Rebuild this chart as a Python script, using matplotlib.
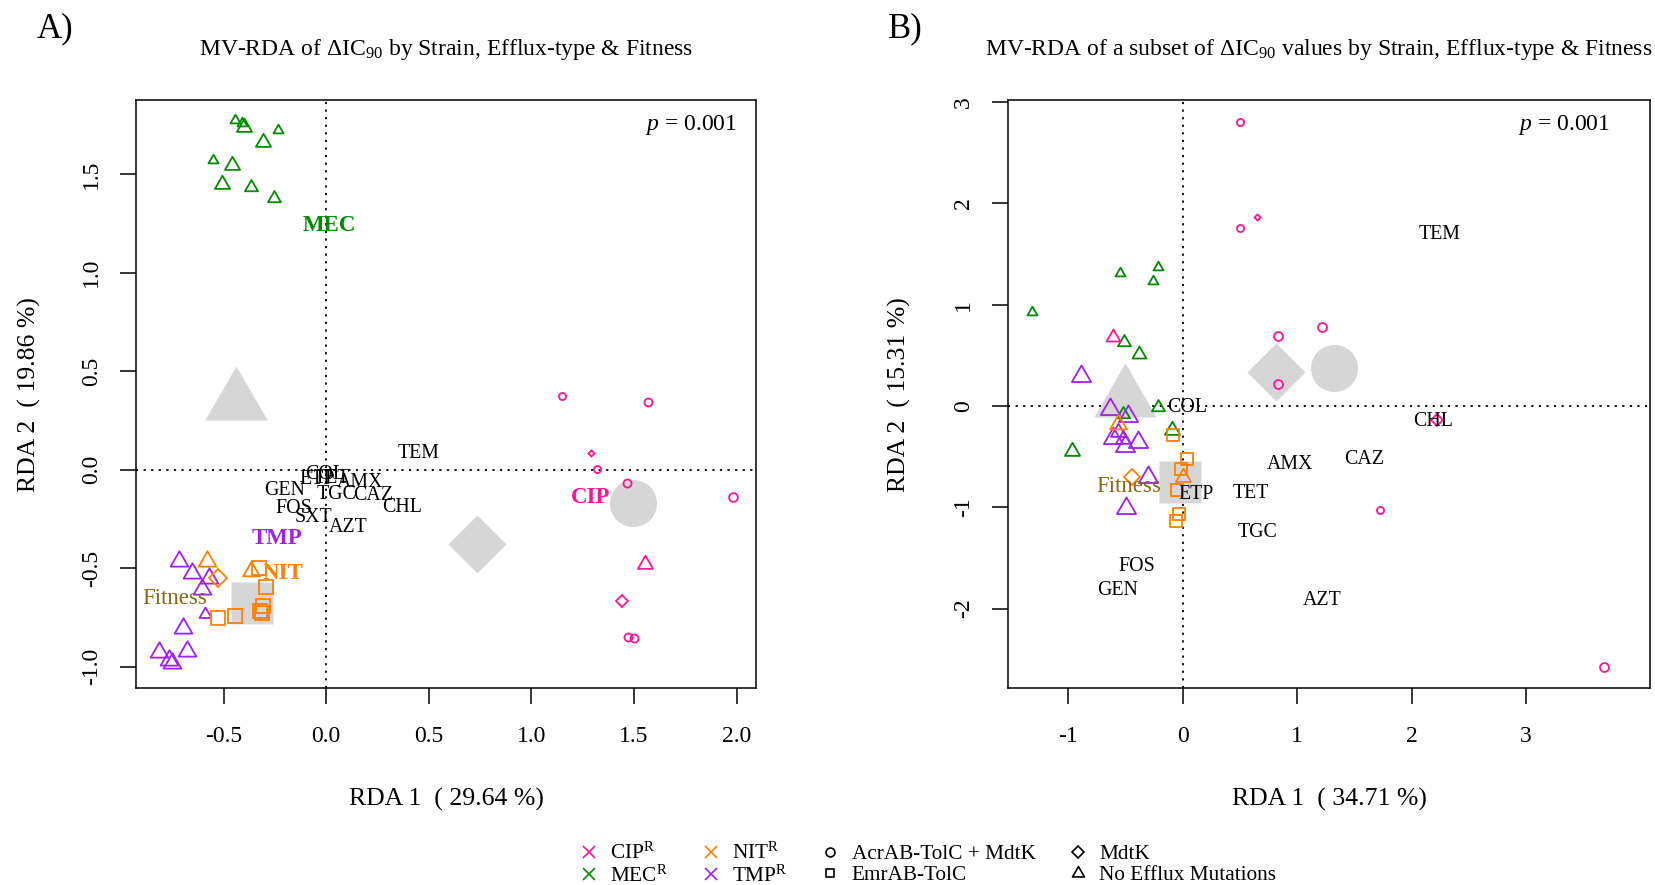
import matplotlib
matplotlib.use('Agg')
import matplotlib.pyplot as plt
from matplotlib.path import Path
from matplotlib.lines import Line2D

plt.rcParams['font.family'] = ['Liberation Serif', 'DejaVu Serif']
plt.rcParams['mathtext.fontset'] = 'custom'
plt.rcParams['mathtext.rm'] = 'Liberation Serif'
plt.rcParams['mathtext.it'] = 'Liberation Serif:italic'
plt.rcParams['mathtext.bf'] = 'Liberation Serif:bold'
plt.rcParams['axes.unicode_minus'] = False

# ---------------- data ----------------
STRAINS = ['CIP', 'MEC', 'NIT', 'TMP']
EFFLUX = ['acr', 'emr', 'mdt', 'none']
EFFLUX_LAB = ['AcrAB-TolC + MdtK', 'EmrAB-TolC', 'MdtK', 'No Efflux Mutations']

# panel A : full data set
A_STRAIN = ['MEC'] * 10 + ['TMP'] * 10 + ['NIT'] * 10 + ['CIP'] * 10
A_EFFLUX = (['none'] * 10 + ['none'] * 10 + ['none', 'none', 'mdt'] + ['emr'] * 7
            + ['acr'] * 7 + ['mdt', 'mdt', 'none'])
A_X = [-0.444, -0.412, -0.401, -0.236, -0.307, -0.553, -0.458, -0.508, -0.368, -0.253,
       -0.716, -0.655, -0.571, -0.607, -0.591, -0.699, -0.813, -0.765, -0.753, -0.680,
       -0.579, -0.368, -0.526, -0.327, -0.295, -0.529, -0.443, -0.307, -0.323, -0.315,
       1.148, 1.567, 1.321, 1.467, 1.981, 1.472, 1.500, 1.292, 1.443, 1.555]
A_Y = [1.774, 1.758, 1.740, 1.724, 1.661, 1.571, 1.546, 1.448, 1.436, 1.377,
       -0.463, -0.526, -0.551, -0.607, -0.732, -0.805, -0.923, -0.966, -0.982, -0.918,
       -0.462, -0.512, -0.551, -0.500, -0.597, -0.754, -0.741, -0.692, -0.717, -0.727,
       0.375, 0.343, 0.004, -0.066, -0.140, -0.847, -0.855, 0.086, -0.666, -0.480]
A_CEX = [0.42, 0.42, 0.63, 0.42, 0.63, 0.42, 0.63, 0.63, 0.54, 0.54,
         0.74, 0.74, 0.74, 0.74, 0.50, 0.74, 0.74, 0.74, 0.74, 0.74,
         0.74, 0.70, 0.78, 0.85, 0.85, 0.85, 0.85, 0.85, 0.85, 0.85,
         0.40, 0.45, 0.40, 0.45, 0.49, 0.45, 0.45, 0.27, 0.57, 0.63]
A_CENT_X = [1.494, -0.363, 0.735, -0.438]   # acr, emr, mdt, none
A_CENT_Y = [-0.170, -0.678, -0.375, 0.343]
A_ABX = ['TEM', 'COL', 'ETP', 'TET', 'AMX', 'GEN', 'TGC', 'CAZ', 'CHL', 'FOS', 'SXT', 'AZT']
A_ABX_X = [0.449, -0.006, -0.046, 0.027, 0.165, -0.201, 0.051, 0.230, 0.368, -0.160, -0.063, 0.108]
A_ABX_Y = [0.083, -0.027, -0.052, -0.044, -0.066, -0.107, -0.128, -0.133, -0.191, -0.196, -0.241, -0.292]
A_LAB = ['MEC', 'TMP', 'NIT', 'CIP']
A_LAB_X = [0.015, -0.241, -0.209, 1.286]
A_LAB_Y = [1.241, -0.348, -0.526, -0.140]
A_FIT = (-0.737, -0.656)

# panel B : subset of values
B_STRAIN = ['MEC'] * 10 + ['CIP'] * 10 + ['TMP'] * 10 + ['NIT'] * 9
B_EFFLUX = (['none'] * 10 + ['acr'] * 7 + ['mdt', 'mdt', 'none'] + ['none'] * 10
            + ['none', 'none', 'mdt'] + ['emr'] * 6)
B_X = [-0.216, -0.548, -0.257, -1.319, -0.510, -0.379, -0.216, -0.519, -0.969, -0.091,
       0.502, 0.502, 1.214, 0.832, 0.832, 1.728, 3.683, 0.652, 2.226, -0.611,
       -0.888, -0.632, -0.478, -0.563, -0.606, -0.519, -0.504, -0.388, -0.306, -0.495,
       -0.561, 0.005, -0.440, -0.082, 0.035, -0.015, -0.052, -0.030, -0.059]
B_Y = [1.374, 1.309, 1.236, 0.931, 0.635, 0.514, -0.012, -0.077, -0.448, -0.235,
       2.803, 1.752, 0.780, 0.695, 0.219, -1.028, -2.577, 1.864, -0.140, 0.685,
       0.294, -0.028, -0.103, -0.258, -0.313, -0.323, -0.399, -0.357, -0.701, -1.007,
       -0.182, -0.701, -0.701, -0.291, -0.527, -0.626, -0.826, -1.062, -1.135]
B_CEX = [0.42, 0.42, 0.42, 0.42, 0.54, 0.58, 0.54, 0.54, 0.63, 0.63,
         0.40, 0.40, 0.50, 0.50, 0.50, 0.40, 0.50, 0.27, 0.54, 0.58,
         0.80, 0.80, 0.80, 0.63, 0.80, 0.63, 0.80, 0.80, 0.80, 0.80,
         0.70, 0.63, 0.76, 0.80, 0.80, 0.80, 0.80, 0.80, 0.80]
B_CENT_X = [1.327, -0.020, 0.817, -0.500]
B_CENT_Y = [0.379, -0.747, 0.340, 0.067]
B_ABX = ['TEM', 'COL', 'CHL', 'AMX', 'CAZ', 'TET', 'ETP', 'TGC', 'AZT', 'FOS', 'GEN']
B_ABX_X = [2.241, 0.044, 2.190, 0.935, 1.590, 0.595, 0.115, 0.659, 1.221, -0.401, -0.567]
B_ABX_Y = [1.697, -0.012, -0.150, -0.581, -0.528, -0.861, -0.872, -1.246, -1.922, -1.589, -1.818]
B_FIT = (-0.466, -0.793)

A_XTICKS = [-0.5, 0.0, 0.5, 1.0, 1.5, 2.0]
A_YTICKS = [-1.0, -0.5, 0.0, 0.5, 1.0, 1.5]
B_XTICKS = [-1, 0, 1, 2, 3]
B_YTICKS = [-2, -1, 0, 1, 2, 3]

# ---------------- style ----------------
COL = {'CIP': '#FF1493', 'MEC': '#008B00', 'NIT': '#FF7F00', 'TMP': '#A020F0'}
FITCOL = '#8B6914'
GRAY = '#D6D6D6'
PX = 0.72            # points per pixel at dpi 100
R_PER_CEX = 8.9      # R symbol radius (px) per cex

TRI = Path([(0, 0.5774), (-0.5, -0.2887), (0.5, -0.2887), (0, 0.5774)],
           [Path.MOVETO, Path.LINETO, Path.LINETO, Path.CLOSEPOLY])
MK = {'acr': 'o', 'emr': 's', 'mdt': 'D', 'none': TRI}
# markersize per unit radius (R pch 1/0/5/2 geometry)
MS_PER_R = {'acr': 2.0, 'emr': 1.772, 'mdt': 1.772, 'none': 3.111}
# filled centroid symbols, measured size in px (diameter / side / side / base-ish)
CENT_MS = {'acr': 47 * PX, 'emr': 43 * PX, 'mdt': 58.7 / 1.414 * PX, 'none': 62.4 / 0.866 * PX}


def panel(ax, xs, ys, strain, efflux, cex, cx, cy, abx, abx_x, abx_y, fit,
          xlim, ylim, xt, yt, fmt, xlab, ylab):
    ax.set_xlim(*xlim); ax.set_ylim(*ylim)
    ax.axhline(0, color='black', lw=1.3, ls=(0, (1.2, 3)), zorder=1)
    ax.axvline(0, color='black', lw=1.3, ls=(0, (1.2, 3)), zorder=1)
    for e, x, y in zip(EFFLUX, cx, cy):
        ax.plot(x, y, marker=MK[e], ms=CENT_MS[e], color=GRAY, mec='none', zorder=2)
    for x, y, s, e, c in zip(xs, ys, strain, efflux, cex):
        ms = MS_PER_R[e] * c * R_PER_CEX * PX
        ax.plot(x, y, marker=MK[e], ms=ms, mfc='none', mec=COL[s], mew=1.3, zorder=3)
    for t, x, y in zip(abx, abx_x, abx_y):
        ax.text(x, y, t, fontsize=14.3, ha='center', va='center', zorder=4)
    ax.text(fit[0], fit[1], 'Fitness', fontsize=16.5, color=FITCOL, ha='center', va='center', zorder=4)
    ax.text(0.895, 0.958, r'$p$ = 0.001', transform=ax.transAxes, fontsize=17,
            ha='center', va='center')
    ax.set_xticks(xt); ax.set_yticks(yt)
    ax.set_xticklabels([fmt.format(v) for v in xt])
    ax.set_yticklabels([fmt.format(v) for v in yt], rotation=90, va='center')
    ax.tick_params(axis='both', direction='out', length=11.5, width=1.1, labelsize=17)
    ax.tick_params(axis='x', pad=16)
    ax.tick_params(axis='y', pad=13)
    for sp in ax.spines.values():
        sp.set_linewidth(1.1)
    ax.set_xlabel(xlab, fontsize=18.5, va='center')
    ax.set_ylabel(ylab, fontsize=18.5, va='center')
    ax.xaxis.set_label_coords(0.5, -0.19)


fig = plt.figure(figsize=(16.55, 8.85), dpi=100)
axA = fig.add_axes([0.0823, 0.2224, 0.3743, 0.6643])
axB = fig.add_axes([0.6092, 0.2224, 0.3877, 0.6643])

panel(axA, A_X, A_Y, A_STRAIN, A_EFFLUX, A_CEX, A_CENT_X, A_CENT_Y,
      A_ABX, A_ABX_X, A_ABX_Y, A_FIT, (-0.926, 2.093), (-1.109, 1.874),
      A_XTICKS, A_YTICKS, '{:.1f}', 'RDA 1  ( 29.64 %)', 'RDA 2  ( 19.86 %)')
for t, x, y in zip(A_LAB, A_LAB_X, A_LAB_Y):
    axA.text(x, y, t, fontsize=16.5, fontweight='bold', color=COL[t],
             ha='center', va='center', zorder=4)
axA.yaxis.set_label_coords(-0.173, 0.5)

panel(axB, B_X, B_Y, B_STRAIN, B_EFFLUX, B_CEX, B_CENT_X, B_CENT_Y,
      B_ABX, B_ABX_X, B_ABX_Y, B_FIT, (-1.523, 4.082), (-2.785, 3.017),
      B_XTICKS, B_YTICKS, '{:d}', 'RDA 1  ( 34.71 %)', 'RDA 2  ( 15.31 %)')
axB.yaxis.set_label_coords(-0.169, 0.5)
axB.texts[-1].set_x(0.867)

fig.text(0.2698, 0.944, r'MV-RDA of ΔIC$_{90}$ by Strain, Efflux-type & Fitness',
         fontsize=17, ha='center', va='center')
fig.text(0.797, 0.944, r'MV-RDA of a subset of ΔIC$_{90}$ values by Strain, Efflux-type & Fitness',
         fontsize=17, ha='center', va='center')
fig.text(0.0332, 0.968, 'A)', fontsize=25, ha='center', va='center')
fig.text(0.5472, 0.968, 'B)', fontsize=25, ha='center', va='center')

# bottom legend
handles = [Line2D([], [], ls='none', marker='x', ms=8, mew=1.2, color=COL[s]) for s in STRAINS]
handles += [Line2D([], [], ls='none', marker=MK[e], ms=MS_PER_R[e] * 0.5 * R_PER_CEX * PX,
                   mfc='none', mec='black', mew=1.2) for e in EFFLUX]
labels = [s + r'$^{\mathrm{R}}$' for s in STRAINS] + EFFLUX_LAB
fig.legend(handles, labels, ncol=4, loc='center', bbox_to_anchor=(0.561, 0.023),
           frameon=False, fontsize=15.3, handlelength=0.8, handletextpad=0.6,
           columnspacing=1.6, labelspacing=0.05, borderpad=0)

fig.savefig('out.png', dpi=100)
